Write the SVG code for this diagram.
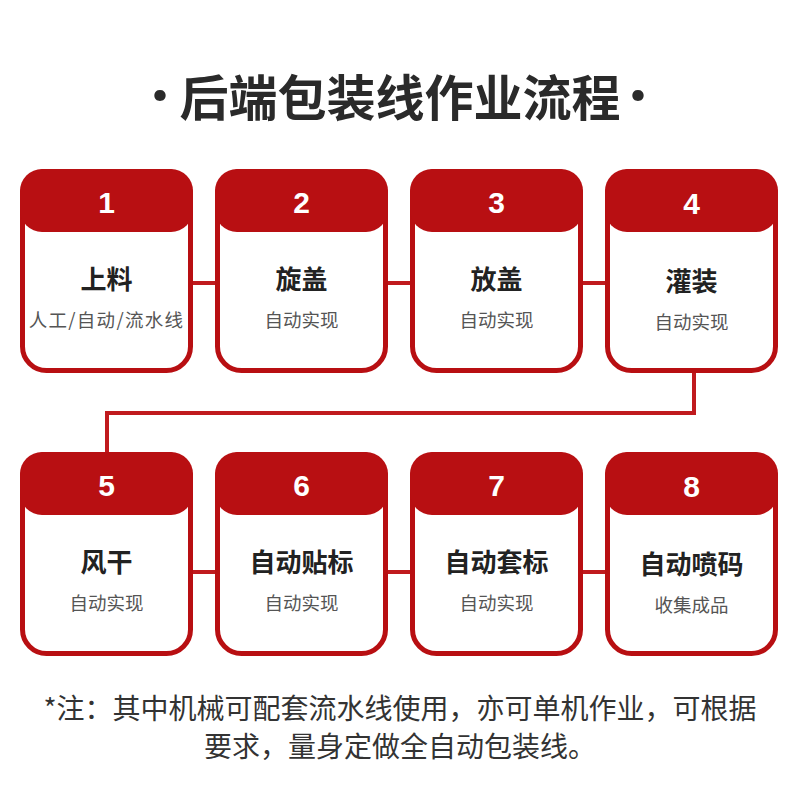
<svg xmlns="http://www.w3.org/2000/svg" width="800" height="800" viewBox="0 0 800 800">
<defs>
<style>
.card{fill:#fff;stroke:#b80f12;stroke-width:5}
.head{fill:#b80f12}
.num{font-family:"Liberation Sans","Noto Sans",Arial,sans-serif;font-weight:bold;font-size:30px;fill:#fff;text-anchor:middle}
.ttl{font-family:"Noto Sans CJK SC","Noto Sans",sans-serif;font-weight:bold;font-size:26px;fill:#222;text-anchor:middle}
.sub{font-family:"Noto Sans CJK SC","Noto Sans",sans-serif;font-size:18.5px;fill:#555;text-anchor:middle}
.con{fill:none;stroke:#c01a1e;stroke-width:4}
.main{font-family:"Noto Sans CJK SC","Noto Sans",sans-serif;font-weight:bold;font-size:49px;fill:#2a2a2a;text-anchor:middle}
.dot{font-family:Lato,"Liberation Sans",sans-serif;font-weight:bold;font-size:60px;fill:#2a2a2a;text-anchor:middle}
.note{font-family:"Noto Sans CJK SC","Noto Sans",sans-serif;font-size:28px;fill:#333;text-anchor:middle}
</style>
</defs>
<rect width="800" height="800" fill="#fff"/>
<text class="main" x="400" y="116">后端包装线作业流程</text>
<text class="dot" x="160" y="113">·</text>
<text class="dot" x="638" y="113">·</text>
<g id="connectors">
<line class="con" x1="190" y1="283" x2="218" y2="283"/>
<line class="con" x1="385" y1="283" x2="413" y2="283"/>
<line class="con" x1="580" y1="283" x2="608" y2="283"/>
<polyline class="con" points="694,370 694,413 107,413 107,455"/>
<line class="con" x1="190" y1="572" x2="218" y2="572"/>
<line class="con" x1="385" y1="572" x2="413" y2="572"/>
<line class="con" x1="580" y1="572" x2="608" y2="572"/>
</g>
<g id="n1">
<rect class="card" x="22.5" y="171.5" width="168" height="199" rx="24"/>
<rect class="head" x="20" y="169" width="173" height="63" rx="22"/>
<text class="num" x="106.5" y="213">1</text>
<text class="ttl" x="106.5" y="289">上料</text>
<text class="sub" x="106.5" y="327" letter-spacing="1.3">人工/自动/流水线</text>
</g>
<g id="n2">
<rect class="card" x="217.5" y="171.5" width="168" height="199" rx="24"/>
<rect class="head" x="215" y="169" width="173" height="63" rx="22"/>
<text class="num" x="301.5" y="213">2</text>
<text class="ttl" x="301.5" y="289">旋盖</text>
<text class="sub" x="301.5" y="327">自动实现</text>
</g>
<g id="n3">
<rect class="card" x="412.5" y="171.5" width="168" height="199" rx="24"/>
<rect class="head" x="410" y="169" width="173" height="63" rx="22"/>
<text class="num" x="496.5" y="213">3</text>
<text class="ttl" x="496.5" y="289">放盖</text>
<text class="sub" x="496.5" y="327">自动实现</text>
</g>
<g id="n4">
<rect class="card" x="607.5" y="171.5" width="168" height="199" rx="24"/>
<rect class="head" x="605" y="169" width="173" height="63" rx="22"/>
<text class="num" x="691.5" y="214">4</text>
<text class="ttl" x="691.5" y="291">灌装</text>
<text class="sub" x="691.5" y="329">自动实现</text>
</g>
<g id="n5">
<rect class="card" x="22.5" y="454.5" width="168" height="199" rx="24"/>
<rect class="head" x="20" y="452" width="173" height="63" rx="22"/>
<text class="num" x="106.5" y="496">5</text>
<text class="ttl" x="106.5" y="572">风干</text>
<text class="sub" x="106.5" y="610">自动实现</text>
</g>
<g id="n6">
<rect class="card" x="217.5" y="454.5" width="168" height="199" rx="24"/>
<rect class="head" x="215" y="452" width="173" height="63" rx="22"/>
<text class="num" x="301.5" y="496">6</text>
<text class="ttl" x="301.5" y="572">自动贴标</text>
<text class="sub" x="301.5" y="610">自动实现</text>
</g>
<g id="n7">
<rect class="card" x="412.5" y="454.5" width="168" height="199" rx="24"/>
<rect class="head" x="410" y="452" width="173" height="63" rx="22"/>
<text class="num" x="496.5" y="496">7</text>
<text class="ttl" x="496.5" y="572">自动套标</text>
<text class="sub" x="496.5" y="610">自动实现</text>
</g>
<g id="n8">
<rect class="card" x="607.5" y="454.5" width="168" height="199" rx="24"/>
<rect class="head" x="605" y="452" width="173" height="63" rx="22"/>
<text class="num" x="691.5" y="497">8</text>
<text class="ttl" x="691.5" y="574">自动喷码</text>
<text class="sub" x="691.5" y="612">收集成品</text>
</g>
<text class="note" x="400" y="719">*注：其中机械可配套流水线使用，亦可单机作业，可根据</text>
<text class="note" x="400" y="757">要求，量身定做全自动包装线。</text>
</svg>
